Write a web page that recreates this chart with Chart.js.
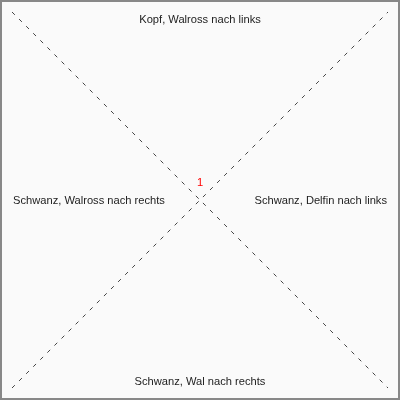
<!DOCTYPE html>
<html>
<head>
<meta charset="utf-8">
<script src="https://cdn.jsdelivr.net/npm/chart.js@4"></script>
<style>
  html, body { margin: 0; padding: 0; background: #fff; }
  #wrap { width: 400px; height: 400px; box-sizing: border-box; border: 2px solid #888; background: #fafafa; }
  canvas { display: block; }
</style>
</head>
<body>
<div id="wrap"><canvas id="chart" width="396" height="396"></canvas></div>
<script>
// Side labels (top, right, bottom, left) and where they sit on the -1..1 square
let sideLabels = ['Kopf, Walross nach links', 'Schwanz, Delfin nach links', 'Schwanz, Wal nach rechts', 'Schwanz, Walross nach rechts'];
let sideX = [0, 1, 0, -1];
let sideY = [1, 0, -1, 0];

// The one plotted point
let pointLabels = ['1'];
let pointX = [0];
let pointY = [0];

// Diagonals
let diagX = [-1, 1];
let diagDown = [1, -1];
let diagUp = [-1, 1];

// Draw the side labels and point labels
let labelPlugin = {
  id: 'labels',
  afterDatasetsDraw(chart) {
    let ctx = chart.ctx;
    let xs = chart.scales.x, ys = chart.scales.y;
    ctx.save();
    ctx.font = '11.15px "Liberation Sans", Arial, sans-serif';
    ctx.fillStyle = '#222';
    ctx.textBaseline = 'middle';
    sideLabels.forEach((txt, i) => {
      let px = xs.getPixelForValue(sideX[i]);
      let py = ys.getPixelForValue(sideY[i]);
      if (sideY[i] === 1) { ctx.textAlign = 'center'; py += 8; }
      else if (sideY[i] === -1) { ctx.textAlign = 'center'; py -= 6; }
      else if (sideX[i] === -1) { ctx.textAlign = 'left'; px += 1; py += 1; }
      else { ctx.textAlign = 'right'; px -= 1; py += 1; }
      ctx.fillText(txt, px, py);
    });
    ctx.fillStyle = 'red';
    ctx.textAlign = 'center';
    pointLabels.forEach((txt, i) => {
      ctx.fillText(txt, xs.getPixelForValue(pointX[i]), ys.getPixelForValue(pointY[i]) - 17);
    });
    ctx.restore();
  }
};

let ctx = document.getElementById('chart').getContext('2d');
let chart = new Chart(ctx, {
  type: 'scatter',
  data: {
    datasets: [
      {
        type: 'line',
        data: diagX.map((x, i) => ({x, y: diagDown[i]})),
        borderColor: '#444',
        borderWidth: 1,
        borderDash: [4, 6],
        pointRadius: 0,
        fill: false
      },
      {
        type: 'line',
        data: diagX.map((x, i) => ({x, y: diagUp[i]})),
        borderColor: '#444',
        borderWidth: 1,
        borderDash: [4, 6],
        pointRadius: 0,
        fill: false
      },
      {
        data: pointX.map((x, i) => ({x, y: pointY[i]})),
        pointRadius: 0,
        backgroundColor: 'red'
      }
    ]
  },
  options: {
    responsive: false,
    animation: false,
    layout: { padding: 10 },
    plugins: { legend: { display: false }, tooltip: { enabled: false } },
    scales: {
      x: { type: 'linear', min: -1, max: 1, display: false },
      y: { type: 'linear', min: -1, max: 1, display: false }
    }
  },
  plugins: [labelPlugin]
});
</script>
</body>
</html>
